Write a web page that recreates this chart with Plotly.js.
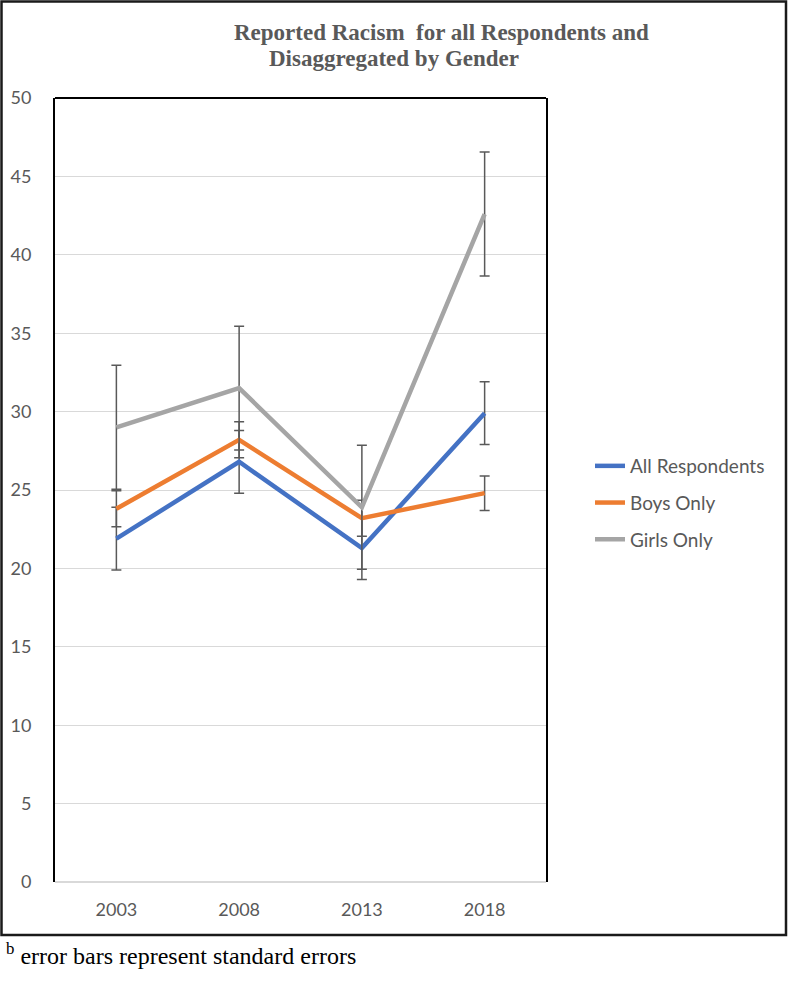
<!DOCTYPE html>
<html>
<head>
<meta charset="utf-8">
<script src="https://cdn.plot.ly/plotly-3.0.1.min.js"></script>
<style>
  html, body { margin: 0; padding: 0; background: #fff; }
  #chart { width: 788px; height: 982px; }
</style>
</head>
<body>
<div id="chart"></div>
<script>
// ---- data ----
const years = ['2003', '2008', '2013', '2018'];
const allRespondents = [21.9, 26.8, 21.3, 29.9];
const allRespondentsSE = [2.0, 2.0, 2.0, 2.0];
const boysOnly = [23.8, 28.2, 23.2, 24.8];
const boysOnlySE = [1.15, 1.15, 1.15, 1.1];
const girlsOnly = [29.0, 31.5, 23.9, 42.6];
const girlsOnlySE = [3.95, 3.95, 3.95, 3.95];
const seriesNames = ['All Respondents', 'Boys Only', 'Girls Only'];
const yTicks = [0, 5, 10, 15, 20, 25, 30, 35, 40, 45, 50];

// ---- layout geometry (pixels) ----
const W = 788, H = 982;
const PL = 55, PR = 546, PT = 98, PB = 882;
const px = x => (x - PL) / (PR - PL);
const py = y => (PB - y) / (PB - PT);

const tickFont = { family: 'Lato, "Open Sans", sans-serif', size: 18, color: '#595959' };

function series(name, y, se, color, group) {
  return {
    type: 'scatter', mode: 'lines', name: name, x: years, y: y,
    legendgroup: group,
    line: { color: color, width: 4.5 },
    error_y: { type: 'data', array: se, visible: true, color: '#595959', thickness: 1.5, width: 5 },
    hoverinfo: 'skip'
  };
}

const traces = [
  series(seriesNames[0], allRespondents, allRespondentsSE, '#4472C4', 'a'),
  series(seriesNames[1], boysOnly, boysOnlySE, '#ED7D31', 'b'),
  series(seriesNames[2], girlsOnly, girlsOnlySE, '#A5A5A5', 'c')
];

const layout = {
  width: W, height: H,
  margin: { l: PL, r: W - PR, t: PT, b: H - PB, pad: 0 },
  paper_bgcolor: '#ffffff',
  plot_bgcolor: '#ffffff',
  showlegend: true,
  legend: {
    x: px(590), y: py(447), xanchor: 'left', yanchor: 'top',
    font: { family: 'Lato, "Open Sans", sans-serif', size: 19, color: '#595959' },
    traceorder: 'grouped', tracegroupgap: 9,
    bgcolor: 'rgba(0,0,0,0)', borderwidth: 0
  },
  xaxis: {
    type: 'category',
    range: [-0.5, 3.5],
    showgrid: false, zeroline: false, showline: false,
    ticks: '', tickfont: tickFont,
    ticklabelstandoff: 15,
    fixedrange: true
  },
  yaxis: {
    range: [0, 50],
    tickvals: yTicks,
    ticktext: yTicks.map(String),
    showgrid: true, gridcolor: '#d9d9d9', gridwidth: 1,
    zeroline: true, zerolinecolor: '#d9d9d9', zerolinewidth: 1.5,
    showline: true, mirror: true, linecolor: '#000000', linewidth: 2,
    ticks: '', tickfont: tickFont,
    ticklabelstandoff: 18,
    fixedrange: true
  },
  shapes: [
    // top border of plot box
    { type: 'line', xref: 'paper', yref: 'paper', x0: 0, x1: 1, y0: 1, y1: 1,
      line: { color: '#000000', width: 2 } },
    // outer frame
    { type: 'rect', xref: 'paper', yref: 'paper',
      x0: px(1.5), x1: px(786), y0: py(935), y1: py(1.5),
      line: { color: '#1a1a1a', width: 2.5 } }
  ],
  annotations: [
    { xref: 'paper', yref: 'paper', x: px(441), y: py(32), xanchor: 'center', yanchor: 'middle',
      text: 'Reported Racism  for all Respondents and', showarrow: false,
      font: { family: '"Liberation Serif", "Times New Roman", serif', size: 23, color: '#595959', weight: 'bold' } },
    { xref: 'paper', yref: 'paper', x: px(394), y: py(58), xanchor: 'center', yanchor: 'middle',
      text: 'Disaggregated by Gender', showarrow: false,
      font: { family: '"Liberation Serif", "Times New Roman", serif', size: 23, color: '#595959', weight: 'bold' } },
    { xref: 'paper', yref: 'paper', x: px(4), y: py(954), xanchor: 'left', yanchor: 'middle',
      text: '<sup>b</sup> error bars represent standard errors', showarrow: false,
      font: { family: '"Liberation Serif", "Times New Roman", serif', size: 24, color: '#000000' } }
  ]
};

Plotly.newPlot('chart', traces, layout, { displayModeBar: false, staticPlot: true });
</script>
</body>
</html>
